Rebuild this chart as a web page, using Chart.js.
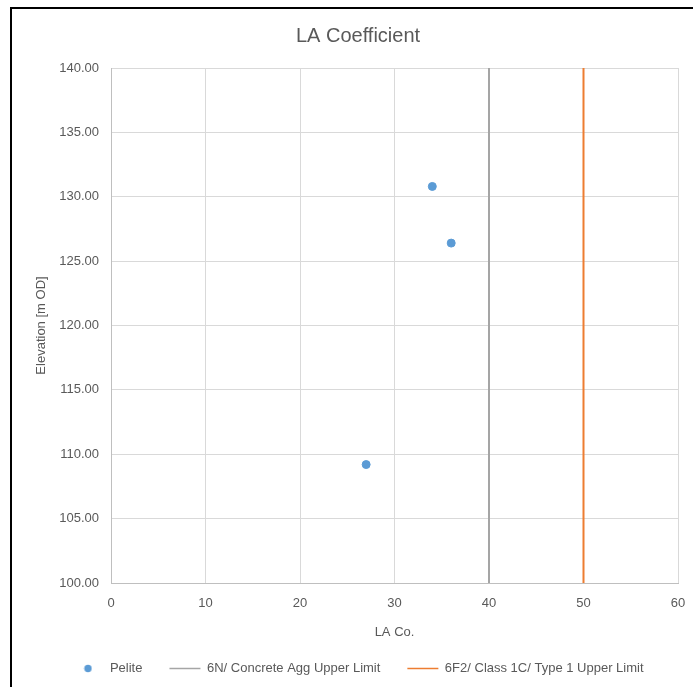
<!DOCTYPE html>
<html lang="en">
<head>
  <meta charset="utf-8"/>
  <title>LA Coefficient</title>
  <script src="https://cdn.jsdelivr.net/npm/chart.js"></script>
  <style>
    html, body { margin: 0; padding: 0; background: #fff; }
    #wrap { position: relative; width: 693px; height: 687px; }
    #frame {
      position: absolute; left: 10px; top: 7px; right: -5px; bottom: -5px;
      border-left: 2px solid #000; border-top: 2px solid #000;
      pointer-events: none;
    }
  </style>
</head>
<body>
  <div id="wrap">
    <canvas id="laChart" width="693" height="687"></canvas>
    <div id="frame"></div>
  </div>

<script>
  // values
  const laCo = [34, 36, 27];
  const elevation = [130.8, 126.4, 109.2];
  const concreteLimit = 40;
  const type1Limit = 50;
  const yRange = [100, 140];

  const fontFamily = "'Liberation Sans', Arial, sans-serif";
  const textColor = '#595959';
  const pointColor = '#5B9BD5';

  const pelitePoints = laCo.map((x, i) => ({ x: x, y: elevation[i] }));
  const limitLine = (x) => yRange.map(y => ({ x: x, y: y }));

  // small dot for the legend (the legend box is widened for the line entries)
  const dot = document.createElement('canvas');
  dot.width = 9; dot.height = 9;
  const dctx = dot.getContext('2d');
  dctx.fillStyle = pointColor;
  dctx.beginPath();
  dctx.arc(4.5, 4.5, 3.7, 0, Math.PI * 2);
  dctx.fill();

  // Excel centres title and legend on the whole frame, nudge them over
  const boxShift = {
    id: 'boxShift',
    afterLayout(chart) {
      const lg = chart.legend;
      lg.left += 13; lg.right += 13;
      lg.top -= 2; lg.bottom -= 2;
      const tb = chart.titleBlock;
      tb.left += 13; tb.right += 13;
    }
  };

  new Chart(document.getElementById('laChart'), {
    type: 'scatter',
    data: {
      datasets: [
        {
          label: 'Pelite',
          data: pelitePoints,
          backgroundColor: pointColor,
          borderColor: pointColor,
          pointRadius: 4,
          pointStyle: 'circle'
        },
        {
          label: '6N/ Concrete Agg Upper Limit',
          data: limitLine(concreteLimit),
          showLine: true,
          borderColor: '#A5A5A5',
          backgroundColor: '#A5A5A5',
          borderWidth: 2,
          pointRadius: 0,
          pointStyle: 'line'
        },
        {
          label: '6F2/ Class 1C/ Type 1 Upper Limit',
          data: limitLine(type1Limit),
          showLine: true,
          borderColor: '#ED7D31',
          backgroundColor: '#ED7D31',
          borderWidth: 2,
          pointRadius: 0,
          pointStyle: 'line'
        }
      ]
    },
    options: {
      responsive: false,
      animation: false,
      layout: { padding: { left: 12, right: 15, top: 8, bottom: 0 } },
      plugins: {
        title: {
          display: true,
          text: 'LA Coefficient',
          color: textColor,
          font: { family: fontFamily, size: 20, weight: 'normal' },
          padding: { top: 16, bottom: 20 }
        },
        legend: {
          position: 'bottom',
          labels: {
            color: textColor,
            font: { family: fontFamily, size: 13 },
            usePointStyle: true,
            pointStyleWidth: 31,
            padding: 27,
            generateLabels: (chart) => {
              const items = Chart.defaults.plugins.legend.labels.generateLabels(chart);
              items[0].pointStyle = dot;
              items.forEach(it => { if (it.datasetIndex > 0) it.lineWidth = 1.5; });
              return items;
            }
          }
        },
        tooltip: { enabled: false }
      },
      scales: {
        x: {
          type: 'linear',
          min: 0,
          max: 60,
          ticks: {
            stepSize: 10,
            color: textColor,
            padding: 13,
            font: { family: fontFamily, size: 13 }
          },
          grid: { color: '#D9D9D9', drawTicks: false },
          border: { color: '#BFBFBF' },
          title: {
            display: true,
            text: 'LA Co.',
            color: textColor,
            font: { family: fontFamily, size: 13 },
            padding: { top: 0, bottom: -3 }
          },
          afterFit: (scale) => {
            scale.height = 54;
            scale.paddingLeft = 0;
            scale.paddingRight = 0;
          }
        },
        y: {
          type: 'linear',
          min: yRange[0],
          max: yRange[1],
          ticks: {
            stepSize: 5,
            color: textColor,
            padding: 12,
            font: { family: fontFamily, size: 13 },
            callback: (v) => v.toFixed(2)
          },
          grid: { color: '#D9D9D9', drawTicks: false },
          border: { color: '#BFBFBF' },
          title: {
            display: true,
            text: 'Elevation [m OD]',
            color: textColor,
            font: { family: fontFamily, size: 13 },
            padding: { top: 22, bottom: 0 }
          },
          afterFit: (scale) => { scale.width = 99; }
        }
      }
    },
    plugins: [boxShift]
  });
</script>
</body>
</html>
